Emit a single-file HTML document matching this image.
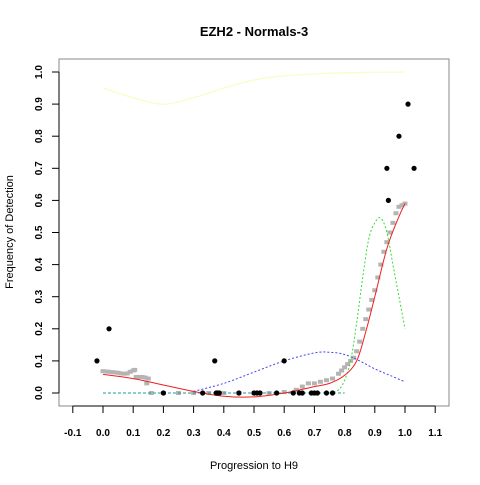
<!DOCTYPE html>
<html><head><meta charset="utf-8"><style>
body{margin:0;background:#fff}
svg text{font-family:"Liberation Sans",Arial,sans-serif}
</style></head><body>
<svg id="chart" width="480" height="480" xmlns="http://www.w3.org/2000/svg">
<rect width="480" height="480" fill="#fff"/>
<text x="254" y="36" text-anchor="middle" font-size="13" font-weight="bold">EZH2 - Normals-3</text>
<text x="254" y="469" text-anchor="middle" font-size="11">Progression to H9</text>
<text transform="translate(13,232) rotate(-90)" text-anchor="middle" font-size="11">Frequency of Detection</text>
<rect x="59" y="59" width="390" height="347" fill="none" stroke="#888" stroke-width="1"/>
<g id="axes"></g>
<g id="marks"></g>
</svg>
<script>
const xTicks=[-0.1,0,0.1,0.2,0.3,0.4,0.5,0.6,0.7,0.8,0.9,1.0,1.1];
const yTicks=[0,0.1,0.2,0.3,0.4,0.5,0.6,0.7,0.8,0.9,1.0];
const ptsX=[-0.02,0.02,0.2,0.33,0.37,0.375,0.38,0.385,0.45,0.5,0.51,0.52,0.575,0.6,0.63,0.65,0.66,0.69,0.7,0.71,0.74,0.76,0.94,0.945,0.98,1.01,1.03];
const ptsY=[0.1,0.2,0,0,0.1,0,0,0,0,0,0,0,0,0.1,0,0,0,0,0,0,0,0,0.7,0.6,0.8,0.9,0.7];
const greyX=[0,0.01,0.02,0.03,0.04,0.05,0.06,0.07,0.08,0.09,0.1,0.105,0.11,0.12,0.13,0.14,0.145,0.15,0.16,0.2,0.25,0.3,0.35,0.4,0.45,0.5,0.55,0.6,0.64,0.66,0.68,0.7,0.72,0.74,0.76,0.78,0.79,0.8,0.81,0.82,0.83,0.84,0.85,0.86,0.87,0.88,0.89,0.9,0.91,0.92,0.93,0.94,0.95,0.96,0.97,0.98,0.99,1.0];
const greyY=[0.068,0.067,0.066,0.065,0.064,0.063,0.061,0.06,0.061,0.066,0.07,0.072,0.05,0.05,0.05,0.048,0.03,0.045,0,0,0,0,0,0,0,0,0,0.003,0.01,0.02,0.03,0.03,0.035,0.04,0.045,0.06,0.07,0.08,0.09,0.1,0.11,0.13,0.16,0.2,0.23,0.26,0.29,0.32,0.36,0.4,0.44,0.47,0.5,0.53,0.56,0.58,0.585,0.59];
const redX=[0,0.1,0.2,0.3,0.4,0.5,0.6,0.7,0.75,0.8,0.84,0.87,0.9,0.94,0.98,1.0];
const redY=[0.058,0.045,0.025,0.005,-0.01,-0.012,0,0.02,0.03,0.055,0.1,0.19,0.3,0.45,0.55,0.59];
const yelX=[0,0.1,0.2,0.3,0.4,0.5,0.6,0.75,0.9,1.0];
const yelY=[0.95,0.92,0.9,0.92,0.95,0.975,0.988,0.996,0.999,1.0];
const bluX=[0.3,0.4,0.5,0.6,0.7,0.75,0.8,0.85,0.9,0.95,1.0];
const bluY=[0.005,0.03,0.065,0.1,0.125,0.127,0.12,0.1,0.075,0.055,0.035];
const grnX=[0.75,0.78,0.8,0.82,0.84,0.86,0.88,0.9,0.92,0.94,0.96,0.98,1.0];
const grnY=[0,0.01,0.04,0.1,0.22,0.36,0.48,0.53,0.545,0.5,0.4,0.3,0.2];
const tealX=[0,0.8];
const tealY=[0,0];
const X=v=>103+v*302, Y=v=>393-v*321;
const NS="http://www.w3.org/2000/svg";
const ax=document.getElementById('axes'), mk=document.getElementById('marks');
function mkEl(t,a,p){const e=document.createElementNS(NS,t);for(const k in a)e.setAttribute(k,a[k]);p.appendChild(e);return e;}
let ya=mkEl('line',{x1:59,x2:59,y1:Y(0),y2:Y(1),stroke:'#000'},ax);


let xa=mkEl('line',{x1:X(-0.1),x2:X(1.1),y1:406,y2:406,stroke:'#000'},ax);


xTicks.forEach(v=>{
  mkEl('line',{x1:X(v),x2:X(v),y1:406,y2:413,stroke:'#000'},ax);
  const t=mkEl('text',{x:X(v),y:436,'text-anchor':'middle','font-size':10,'font-weight':'bold'},ax);
  
  
  t.textContent=v.toFixed(1);
});
yTicks.forEach(v=>{
  mkEl('line',{x1:52,x2:59,y1:Y(v),y2:Y(v),stroke:'#000'},ax);
  const t=mkEl('text',{transform:`translate(42,${Y(v)}) rotate(-90)`,'text-anchor':'middle','font-size':10,'font-weight':'bold'},ax);
  
  
  t.textContent=v.toFixed(1);
});
function line(xs,ys,col,dash,name,w){
  const P=xs.map((x,i)=>[X(x),Y(ys[i])]);
  let d='M'+P[0][0].toFixed(1)+','+P[0][1].toFixed(1);
  for(let i=0;i<P.length-1;i++){
    const p0=P[i-1]||P[i],p1=P[i],p2=P[i+1],p3=P[i+2]||P[i+1];
    const c1=[p1[0]+(p2[0]-p0[0])/6,p1[1]+(p2[1]-p0[1])/6];
    const c2=[p2[0]-(p3[0]-p1[0])/6,p2[1]-(p3[1]-p1[1])/6];
    d+='C'+c1.map(n=>n.toFixed(1))+' '+c2.map(n=>n.toFixed(1))+' '+p2.map(n=>n.toFixed(1));
  }
  const p=mkEl('path',{d:d,fill:'none',stroke:col,'stroke-width':w||1,'stroke-dasharray':dash||'none'},mk);
  
  
}
greyX.forEach((x,i)=>{
  const c=mkEl('rect',{x:X(x)-2.5,y:Y(greyY[i])-2,width:5,height:4,fill:'#b4b4b4'},mk);
  
  
});
line(yelX,yelY,'#fbfbc8','', 'yellow-curve',1.2);
line(tealX,tealY,'#1a9a9a','3,2','teal-baseline');
line(bluX,bluY,'#4444ee','2,2','blue-curve');
line(grnX,grnY,'#33dd33','2,2','green-curve');
line(redX,redY,'#ee2020','','red-fit-curve');
ptsX.forEach((x,i)=>{
  const c=mkEl('circle',{cx:X(x),cy:Y(ptsY[i]),r:2.6,fill:'#000'},mk);
  
  
});
</script>
</body></html>
